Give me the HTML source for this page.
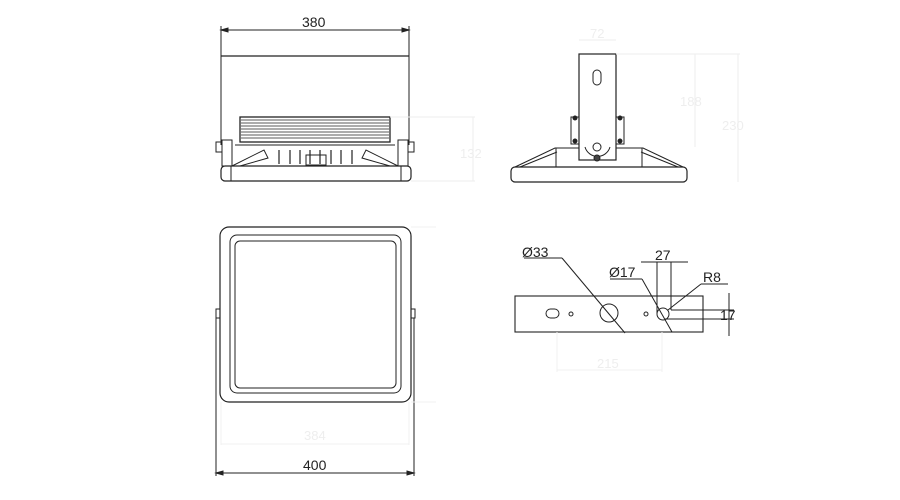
<!DOCTYPE html>
<html><head><style>html,body{margin:0;padding:0;background:#fff}svg{display:block}</style></head>
<body>
<svg width="900" height="500" viewBox="0 0 900 500" xmlns="http://www.w3.org/2000/svg" font-family="Liberation Sans, sans-serif">
<g fill="none" stroke="#222" stroke-width="1">
<!-- Top-left view -->
<line x1="221" y1="26" x2="221" y2="145"/>
<line x1="409" y1="26" x2="409" y2="145"/>
<line x1="221" y1="30" x2="409" y2="30"/>
<path d="M221 30 l7 -2 v4z M409 30 l-7 -2 v4z" fill="#222"/>
<line x1="221" y1="56" x2="409" y2="56" stroke-width="1.3"/>
<rect x="240" y="117" width="150" height="25" stroke-width="1.3"/>
<g stroke-width="0.8"><line x1="241" y1="120" x2="389" y2="120"/><line x1="241" y1="123" x2="389" y2="123"/><line x1="241" y1="126" x2="389" y2="126"/><line x1="241" y1="129" x2="389" y2="129"/><line x1="241" y1="132" x2="389" y2="132"/><line x1="241" y1="135" x2="389" y2="135"/><line x1="241" y1="138" x2="389" y2="138"/></g>
<rect x="221" y="166" width="190" height="15" rx="4" stroke-width="1.2"/>
<line x1="231" y1="166" x2="231" y2="181"/><line x1="401" y1="166" x2="401" y2="181"/>
<rect x="216" y="142" width="6" height="10"/><rect x="408" y="142" width="6" height="10"/>
<rect x="222" y="140" width="10" height="26"/><rect x="398" y="140" width="10" height="26"/>
<path d="M232 166 L264 150 L268 158 L240 166 M398 166 L366 150 L362 158 L390 166"/>
<path d="M235 145 H395"/>
<g stroke-width="1.2"><line x1="279" y1="150" x2="279" y2="164"/><line x1="290" y1="150" x2="290" y2="164"/><line x1="300" y1="150" x2="300" y2="164"/><line x1="310" y1="150" x2="310" y2="164"/><line x1="320" y1="150" x2="320" y2="164"/><line x1="331" y1="150" x2="331" y2="164"/><line x1="341" y1="150" x2="341" y2="164"/><line x1="352" y1="150" x2="352" y2="164"/></g>
<rect x="306" y="155" width="20" height="10"/>
<g stroke="#eeeeee"><line x1="390" y1="117" x2="475" y2="117"/><line x1="411" y1="181" x2="475" y2="181"/><line x1="473" y1="117" x2="473" y2="181"/></g>
<!-- Top-right view -->
<rect x="579" y="54" width="37" height="106" stroke-width="1.2"/>
<rect x="593" y="70" width="8" height="15" rx="4"/>
<rect x="571" y="117" width="8" height="27"/><rect x="616" y="117" width="8" height="27"/>
<circle cx="575" cy="118" r="2" fill="#222"/><circle cx="575" cy="141" r="2" fill="#222"/>
<circle cx="620" cy="118" r="2" fill="#222"/><circle cx="620" cy="141" r="2" fill="#222"/>
<path d="M585 147 A13 13 0 0 0 610 147"/><circle cx="597" cy="147" r="4"/><circle cx="597" cy="158" r="3" fill="#444"/>
<rect x="511" y="167" width="176" height="15" rx="4" stroke-width="1.2"/>
<path d="M515 167 L555 148 L579 148 M520 167 L557 152 M683 167 L643 148 L616 148 M678 167 L641 152"/>
<line x1="556" y1="148" x2="556" y2="167"/><line x1="642" y1="148" x2="642" y2="167"/>
<g stroke="#eeeeee"><line x1="579" y1="40" x2="616" y2="40"/><line x1="616" y1="54" x2="740" y2="54"/><line x1="695" y1="54" x2="695" y2="147"/><line x1="738" y1="54" x2="738" y2="182"/></g>
<!-- Bottom-left view -->
<rect x="220" y="227" width="191" height="175" rx="9" stroke-width="1.2"/>
<rect x="230" y="235" width="171" height="158" rx="7"/>
<rect x="235" y="241" width="161" height="147" rx="5"/>
<rect x="216" y="309" width="4" height="9"/><rect x="411" y="309" width="4" height="9"/>
<line x1="216" y1="318" x2="216" y2="476"/><line x1="414" y1="318" x2="414" y2="476"/>
<line x1="216" y1="473" x2="414" y2="473"/>
<path d="M216 473 l7 -2 v4z M414 473 l-7 -2 v4z" fill="#222"/>
<g stroke="#f0f0f0"><line x1="221" y1="444" x2="409" y2="444"/><line x1="221" y1="402" x2="221" y2="445"/><line x1="409" y1="402" x2="409" y2="445"/><line x1="411" y1="227" x2="436" y2="227"/><line x1="411" y1="402" x2="436" y2="402"/></g>
<!-- Bottom-right view -->
<rect x="515" y="296" width="188" height="36" stroke-width="1.1"/>
<rect x="546" y="309" width="13" height="9" rx="4.5"/>
<circle cx="571" cy="314" r="2"/><circle cx="646" cy="314" r="2"/>
<circle cx="609" cy="313" r="9"/><circle cx="663" cy="314" r="6"/>
<line x1="524" y1="258" x2="562" y2="258"/><line x1="562" y1="258" x2="625" y2="333"/>
<line x1="610" y1="279" x2="642" y2="279"/><line x1="642" y1="279" x2="672" y2="332"/>
<line x1="657" y1="262" x2="657" y2="314"/><line x1="671" y1="262" x2="671" y2="310"/>
<line x1="641" y1="262" x2="688" y2="262"/>
<line x1="701" y1="284" x2="728" y2="284"/><line x1="701" y1="284" x2="668" y2="310"/>
<line x1="671" y1="310" x2="734" y2="310"/><line x1="665" y1="319" x2="734" y2="319"/>
<line x1="729" y1="293" x2="729" y2="336"/>
<g stroke="#f0f0f0"><line x1="557" y1="332" x2="557" y2="372"/><line x1="662" y1="332" x2="662" y2="372"/><line x1="557" y1="370" x2="662" y2="370"/></g>
</g>
<g font-size="14" fill="#222">
<text x="302" y="27">380</text>
<text x="303" y="470">400</text>
<text x="522" y="257">Ø33</text>
<text x="609" y="277">Ø17</text>
<text x="655" y="260">27</text>
<text x="703" y="282">R8</text>
<text x="720" y="320">17</text>
</g>
<g font-size="13" fill="#eeeeee">
<text x="460" y="158">132</text>
<text x="590" y="38">72</text>
<text x="680" y="106">188</text>
<text x="722" y="130">230</text>
<text x="304" y="440">384</text>
<text x="597" y="368">215</text>
</g>
</svg>
</body></html>
